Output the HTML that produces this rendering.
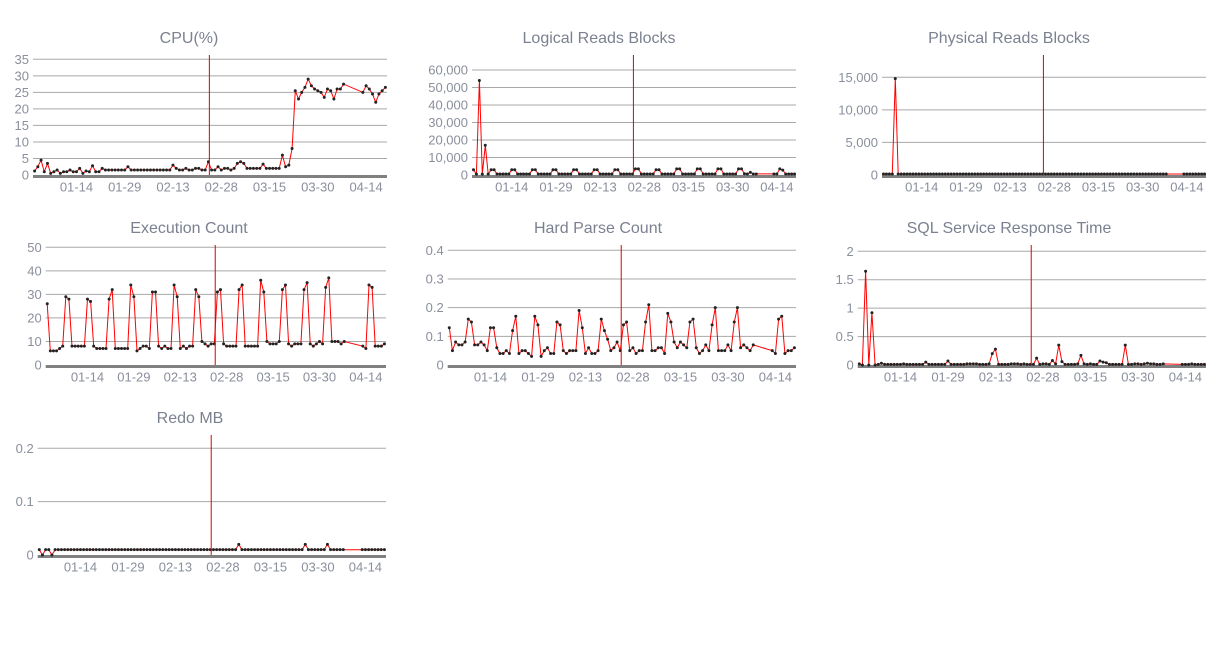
<!DOCTYPE html>
<html><head><meta charset="utf-8"><style>
html,body{margin:0;padding:0;background:#fff;}
svg{display:block;font-family:"Liberation Sans","DejaVu Sans",sans-serif;}
</style></head><body>
<svg id="root" width="1231" height="648" viewBox="0 0 1231 648"></svg>
<script>
const days = [];
for (let d = 0; d <= 96; d++) days.push(d);
for (let d = 102; d <= 109; d++) days.push(d);
const xTickDays = [13, 28, 43, 58, 73, 88, 103];
const xTickLabels = ["01-14","01-29","02-13","02-28","03-15","03-30","04-14"];
const markerDay = [54.3];

const cpuValues = [1.2,2.5,4.5,1,3.5,0.5,1,1.5,0.5,1,
1,1.5,1,1,2,0.5,1.2,1,2.8,1,
1,2,1.5,1.5,1.5,1.5,1.5,1.5,1.5,2.5,
1.5,1.5,1.5,1.5,1.5,1.5,1.5,1.5,1.5,1.5,
1.5,1.5,1.5,3,2,1.5,1.5,2,1.5,1.5,
2,2,1.5,1.5,4,1.5,1.5,2.5,1.5,2,
2,1.5,2,3.5,4,3.5,2,2,2,2,
2,3.3,2,2,2,2,2,6,2.5,3,
8,25.5,23,25,26.5,29,27,26,25.5,25,
23.5,26,25.5,23,26,26,27.5,
25,27,26,24.5,22,24.5,25.5,26.5];

const logicalValues = [3000,500,54000,500,17000,500,
3000,3000,600,600,600,600,600,
3000,3000,600,600,600,600,600,
3000,3000,600,600,600,600,600,
3000,3000,600,600,600,600,600,
3000,3000,600,600,600,600,600,
3000,3000,600,600,600,600,600,
3000,3000,600,600,600,600,600,
3500,3500,600,600,600,600,600,
3000,3000,600,600,600,600,600,
3500,3500,600,600,600,600,600,
3500,3500,600,600,600,600,600,
3500,3500,600,600,600,600,600,
3500,3500,700,600,1500,600,600,
600,600,3500,2800,600,600,600,600];

const physicalValues = [150,150,150,150,14800,150,150,150,150,150,
150,150,150,150,150,150,150,150,150,150,
150,150,150,150,150,150,150,150,150,150,
150,150,150,150,150,150,150,150,150,150,
150,150,150,150,150,150,150,150,150,150,
150,150,150,150,150,150,150,150,150,150,
150,150,150,150,150,150,150,150,150,150,
150,150,150,150,150,150,150,150,150,150,
150,150,150,150,150,150,150,150,150,150,
150,150,150,150,150,150,150,
150,150,150,150,150,150,150,150];

const execValues = [26,6,6,6,7,8,
29,28,8,8,8,8,8,
28,27,8,7,7,7,7,
28,32,7,7,7,7,7,
34,29,6,7,8,8,7,
31,31,8,7,8,7,7,
34,29,7,8,7,8,8,
32,29,10,9,8,9,9,
31,32,9,8,8,8,8,
32,34,8,8,8,8,8,
36,31,10,9,9,9,10,
32,34,9,8,9,9,9,
32,35,9,8,9,10,9,
33,37,10,10,10,9,10,
8,7,34,33,8,8,8,9];

const hardParseValues = [0.13,0.05,0.08,0.07,0.07,0.08,
0.16,0.15,0.07,0.07,0.08,0.07,0.05,
0.13,0.13,0.06,0.04,0.04,0.05,0.04,
0.12,0.17,0.04,0.05,0.05,0.04,0.03,
0.17,0.14,0.03,0.05,0.06,0.04,0.04,
0.15,0.14,0.05,0.04,0.05,0.05,0.05,
0.19,0.13,0.04,0.06,0.04,0.04,0.05,
0.16,0.12,0.09,0.05,0.06,0.08,0.05,
0.14,0.15,0.05,0.06,0.04,0.05,0.05,
0.15,0.21,0.05,0.05,0.06,0.06,0.04,
0.18,0.15,0.08,0.06,0.08,0.07,0.06,
0.15,0.16,0.06,0.04,0.05,0.07,0.05,
0.14,0.20,0.05,0.05,0.05,0.07,0.05,
0.15,0.20,0.06,0.07,0.06,0.05,0.07,
0.05,0.04,0.16,0.17,0.04,0.05,0.05,0.06];

const sqlRespValues = [0.02,0,1.65,0,0.92,0,0.01,0.03,0.01,0.01,
0.01,0.01,0.01,0.01,0.02,0.01,0.01,0.01,0.01,0.01,
0.01,0.05,0.01,0.01,0.01,0.01,0.01,0.01,0.07,0.01,
0.01,0.01,0.01,0.01,0.02,0.02,0.02,0.02,0.01,0.01,
0.01,0.02,0.2,0.28,0.01,0.01,0.01,0.01,0.02,0.02,
0.02,0.01,0.02,0.01,0.01,0.01,0.12,0.01,0.02,0.02,
0.01,0.08,0.02,0.35,0.06,0.01,0.01,0.01,0.01,0.02,
0.17,0.02,0.01,0.02,0.01,0.01,0.07,0.05,0.04,0.01,
0.01,0.01,0.01,0.01,0.35,0.01,0.01,0.02,0.02,0.01,
0.02,0.03,0.02,0.02,0.01,0.01,0.02,
0.01,0.01,0.01,0.02,0.01,0.01,0.01,0.01];

const redoValues = [0.01,0,0.01,0.01,0,0.01,0.01,0.01,0.01,0.01,
0.01,0.01,0.01,0.01,0.01,0.01,0.01,0.01,0.01,0.01,
0.01,0.01,0.01,0.01,0.01,0.01,0.01,0.01,0.01,0.01,
0.01,0.01,0.01,0.01,0.01,0.01,0.01,0.01,0.01,0.01,
0.01,0.01,0.01,0.01,0.01,0.01,0.01,0.01,0.01,0.01,
0.01,0.01,0.01,0.01,0.01,0.01,0.01,0.01,0.01,0.01,
0.01,0.01,0.01,0.02,0.01,0.01,0.01,0.01,0.01,0.01,
0.01,0.01,0.01,0.01,0.01,0.01,0.01,0.01,0.01,0.01,
0.01,0.01,0.01,0.01,0.02,0.01,0.01,0.01,0.01,0.01,
0.01,0.02,0.01,0.01,0.01,0.01,0.01,
0.01,0.01,0.01,0.01,0.01,0.01,0.01,0.01];

const cpuTicks = [0,5,10,15,20,25,30,35];
const logicalTicks = [0,10000,20000,30000,40000,50000,60000];
const physicalTicks = [0,5000,10000,15000];
const execTicks = [0,10,20,30,40,50];
const hardTicks = [0,0.1,0.2,0.3,0.4];
const sqlTicks = [0,0.5,1,1.5,2];
const redoTicks = [0,0.1,0.2];

const NS = "http://www.w3.org/2000/svg";
const root = document.getElementById('root');
function mk(tag, attrs, parent) {
  const e = document.createElementNS(NS, tag);
  for (const k in attrs) e.setAttribute(k, attrs[k]);
  (parent || root).appendChild(e);
  return e;
}
function fmt(v, comma) {
  if (comma) return v.toLocaleString('en-US');
  return String(Math.round(v * 100) / 100);
}

const charts = [
  {name:'cpu', title:'CPU(%)', tx:189, ty:37, L:33, R:387, top:55, zero:175, maxY:59.3, ticks:cpuTicks, vals:cpuValues},
  {name:'logical-reads', title:'Logical Reads Blocks', tx:599, ty:37, L:472, R:796, top:55, zero:175, maxY:70, ticks:logicalTicks, vals:logicalValues, comma:true},
  {name:'physical-reads', title:'Physical Reads Blocks', tx:1009, ty:37, L:882, R:1206, top:55, zero:175, maxY:77.3, ticks:physicalTicks, vals:physicalValues, comma:true},
  {name:'execution-count', title:'Execution Count', tx:189, ty:227, L:45.7, R:386, top:245, zero:365, maxY:247.3, ticks:execTicks, vals:execValues},
  {name:'hard-parse-count', title:'Hard Parse Count', tx:598, ty:227, L:447.7, R:796, top:245, zero:365, maxY:250.3, ticks:hardTicks, vals:hardParseValues},
  {name:'sql-response-time', title:'SQL Service Response Time', tx:1009, ty:227, L:857.7, R:1206, top:245, zero:365, maxY:251.3, ticks:sqlTicks, vals:sqlRespValues},
  {name:'redo-mb', title:'Redo MB', tx:190, ty:417, L:37.7, R:386, top:435, zero:555, maxY:448.3, ticks:redoTicks, vals:redoValues}
];

charts.forEach(c => {
  const g = mk('g', {});
  
  
  const tmax = c.ticks[c.ticks.length - 1];
  const y = v => c.zero - v * (c.zero - c.maxY) / tmax;
  const x = d => c.L + (d + 0.5) * (c.R - c.L) / 110;

  const t = mk('text', {x:c.tx, y:c.ty + 6, 'text-anchor':'middle', 'font-size':16, fill:'#7b8190'}, g);
  t.textContent = c.title;
  
  

  c.ticks.forEach(tv => {
    if (tv !== 0) {
      const gl = mk('line', {x1:c.L, x2:c.R, y1:y(tv), y2:y(tv), stroke:'#a8a8a8', 'stroke-width':1}, g);
      
      
    }
    const tl = mk('text', {x:c.L - 4, y:y(tv) + 4.5, 'text-anchor':'end', 'font-size':13, fill:'#8a8f9c'}, g);
    tl.textContent = fmt(tv, c.comma);
    
    
  });

  const base = mk('line', {x1:c.L, x2:c.R, y1:c.zero + 1.5, y2:c.zero + 1.5, stroke:'#808080', 'stroke-width':3}, g);
  
  

  xTickDays.forEach((d, i) => {
    const xl = mk('text', {x:x(d), y:c.zero + 16.5, 'text-anchor':'middle', 'font-size':13, fill:'#8a8f9c'}, g);
    xl.textContent = xTickLabels[i];
    
    
  });

  const pts = c.vals.map((v, i) => x(days[i]).toFixed(1) + ',' + y(v).toFixed(1)).join(' ');
  const pl = mk('polyline', {points:pts, fill:'none', stroke:'#ff0000', 'stroke-width':1}, g);
  
  
  c.vals.forEach((v, i) => {
    const p = mk('circle', {cx:x(days[i]), cy:y(v), r:1.5, fill:'#222'}, g);
    
    
  });

  const ml = mk('line', {x1:x(markerDay[0]), x2:x(markerDay[0]), y1:c.top, y2:c.zero, stroke:'#e00000', 'stroke-width':1}, g);
  
  
});
</script>
</body></html>
